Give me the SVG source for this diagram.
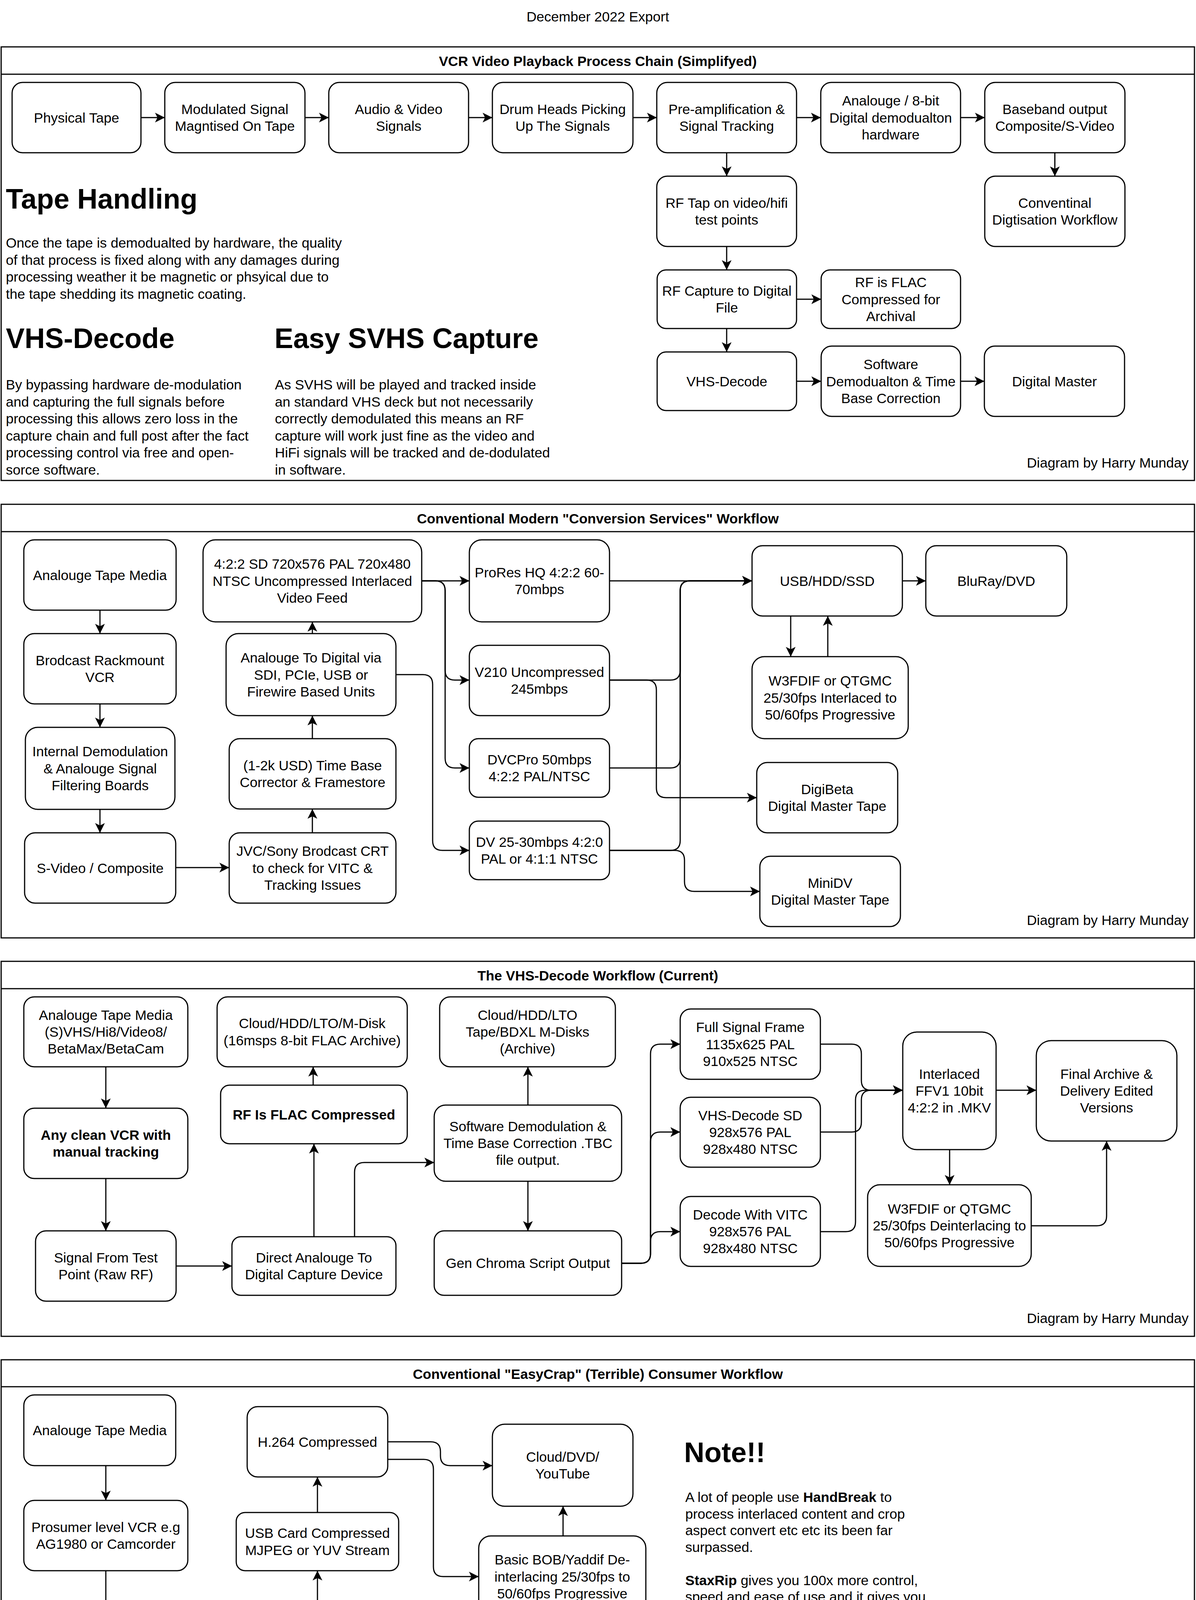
<svg xmlns="http://www.w3.org/2000/svg" width="3063" height="4443" viewBox="0 0 3063 4443">
<style>
.node{fill:#fff;stroke:#000;stroke-width:3}
.box{fill:none;stroke:#000;stroke-width:3}
.t{font-family:"Liberation Sans",Arial,Helvetica,sans-serif;font-size:35.5px;text-anchor:middle;fill:#000}
.b{font-weight:bold}
.l{text-anchor:start}
.r{text-anchor:end}
.h{font-family:"Liberation Sans",Arial,Helvetica,sans-serif;font-size:72px;font-weight:bold;fill:#000}
.e{fill:none;stroke:#000;stroke-width:3;marker-end:url(#arr)}
</style>
<defs>
<marker id="arr" markerUnits="userSpaceOnUse" markerWidth="30" markerHeight="30" refX="25" refY="13" orient="auto">
<path d="M25,13 L0,0.5 L6.25,13 L0,25.5 Z" fill="#000"/>
</marker>
</defs>
<rect x="0" y="0" width="3063" height="4443" fill="#fff"/>
<text class="t" x="1531" y="55">December 2022 Export</text>

<!-- ===== Section 1 ===== -->
<g id="sec1">
<rect class="box" x="3" y="120" width="3056" height="1110"/>
<line x1="3" y1="190" x2="3059" y2="190" stroke="#000" stroke-width="3"/>
<text class="t b" x="1531" y="169">VCR Video Playback Process Chain (Simplifyed)</text>
<text class="t r" x="3044" y="1197">Diagram by Harry Munday</text>
<text class="h" x="15" y="534">Tape Handling</text>
<text class="t l"><tspan x="15" y="634">Once the tape is demodualted by hardware, the quality</tspan><tspan x="15" y="677.5">of that process is fixed along with any damages during</tspan><tspan x="15" y="721">processing weather it be magnetic or phsyical due to</tspan><tspan x="15" y="764.5">the tape shedding its magnetic coating.</tspan></text>
<text class="h" x="15" y="891">VHS-Decode</text>
<text class="t l"><tspan x="15" y="997">By bypassing hardware de-modulation</tspan><tspan x="15" y="1040.5">and capturing the full signals before</tspan><tspan x="15" y="1084">processing this allows zero loss in the</tspan><tspan x="15" y="1127.5">capture chain and full post after the fact</tspan><tspan x="15" y="1171">processing control via free and open-</tspan><tspan x="15" y="1214.5">sorce software.</tspan></text>
<text class="h" x="703" y="891">Easy SVHS Capture</text>
<text class="t l"><tspan x="704" y="997">As SVHS will be played and tracked inside</tspan><tspan x="704" y="1040.5">an standard VHS deck but not necessarily</tspan><tspan x="704" y="1084">correctly demodulated this means an RF</tspan><tspan x="704" y="1127.5">capture will work just fine as the video and</tspan><tspan x="704" y="1171">HiFi signals will be tracked and de-dodulated</tspan><tspan x="704" y="1214.5">in software.</tspan></text>
</g>
<g id="s1-physical"><rect class="node" x="31" y="211" width="330" height="180" rx="27"/><text class="t" x="196" y="313.5">Physical Tape</text></g>
<g id="s1-modulated"><rect class="node" x="422" y="211" width="359" height="180" rx="27"/><text class="t"><tspan x="601.5" y="291.9">Modulated Signal</tspan><tspan x="601.5" y="335.1">Magntised On Tape</tspan></text></g>
<g id="s1-audiovideo"><rect class="node" x="842" y="211" width="358" height="180" rx="27"/><text class="t"><tspan x="1021" y="291.9">Audio &amp; Video</tspan><tspan x="1021" y="335.1">Signals</tspan></text></g>
<g id="s1-drum"><rect class="node" x="1261" y="211" width="360" height="180" rx="27"/><text class="t"><tspan x="1441" y="291.9">Drum Heads Picking</tspan><tspan x="1441" y="335.1">Up The Signals</tspan></text></g>
<g id="s1-preamp"><rect class="node" x="1682" y="211" width="358" height="180" rx="27"/><text class="t"><tspan x="1861" y="291.9">Pre-amplification &amp;</tspan><tspan x="1861" y="335.1">Signal Tracking</tspan></text></g>
<g id="s1-demodhw"><rect class="node" x="2102" y="211" width="358" height="180" rx="27"/><text class="t"><tspan x="2281" y="270.3">Analouge / 8-bit</tspan><tspan x="2281" y="313.5">Digital demodualton</tspan><tspan x="2281" y="356.7">hardware</tspan></text></g>
<g id="s1-baseband"><rect class="node" x="2522" y="211" width="359" height="180" rx="27"/><text class="t"><tspan x="2701.5" y="291.9">Baseband output</tspan><tspan x="2701.5" y="335.1">Composite/S-Video</tspan></text></g>
<g id="s1-rftap"><rect class="node" x="1682" y="451" width="358" height="180" rx="27"/><text class="t"><tspan x="1861" y="531.9">RF Tap on video/hifi</tspan><tspan x="1861" y="575.1">test points</tspan></text></g>
<g id="s1-conventinal"><rect class="node" x="2522" y="451" width="359" height="180" rx="27"/><text class="t"><tspan x="2701.5" y="531.9">Conventinal</tspan><tspan x="2701.5" y="575.1">Digtisation Workflow</tspan></text></g>
<g id="s1-rfcapture"><rect class="node" x="1683" y="691" width="357" height="150" rx="22.5"/><text class="t"><tspan x="1861.5" y="756.9">RF Capture to Digital</tspan><tspan x="1861.5" y="800.1">File</tspan></text></g>
<g id="s1-rfflac"><rect class="node" x="2103" y="691" width="357" height="150" rx="22.5"/><text class="t"><tspan x="2281.5" y="735.3">RF is FLAC</tspan><tspan x="2281.5" y="778.5">Compressed for</tspan><tspan x="2281.5" y="821.7">Archival</tspan></text></g>
<g id="s1-vhsdecode"><rect class="node" x="1683" y="901" width="357" height="150" rx="22.5"/><text class="t" x="1861.5" y="988.5">VHS-Decode</text></g>
<g id="s1-software"><rect class="node" x="2103" y="886" width="357" height="180" rx="27"/><text class="t"><tspan x="2281.5" y="945.3">Software</tspan><tspan x="2281.5" y="988.5">Demodualton &amp; Time</tspan><tspan x="2281.5" y="1031.7">Base Correction</tspan></text></g>
<g id="s1-master"><rect class="node" x="2521" y="886" width="359" height="180" rx="27"/><text class="t" x="2700.5" y="988.5">Digital Master</text></g>

<!-- ===== Section 2 ===== -->
<g id="sec2">
<rect class="box" x="3" y="1291" width="3056" height="1110"/>
<line x1="3" y1="1361" x2="3059" y2="1361" stroke="#000" stroke-width="3"/>
<text class="t b" x="1531" y="1340">Conventional Modern "Conversion Services" Workflow</text>
<text class="t r" x="3044" y="2368">Diagram by Harry Munday</text>
</g>
<g id="s2-tape"><rect class="node" x="61" y="1382" width="390" height="180" rx="27"/><text class="t" x="256" y="1484.5">Analouge Tape Media</text></g>
<g id="s2-vcr"><rect class="node" x="61" y="1622" width="390" height="180" rx="27"/><text class="t"><tspan x="256" y="1702.9">Brodcast Rackmount</tspan><tspan x="256" y="1746.1">VCR</tspan></text></g>
<g id="s2-demod"><rect class="node" x="65" y="1862" width="383" height="210" rx="31.5"/><text class="t"><tspan x="256.5" y="1936.3">Internal Demodulation</tspan><tspan x="256.5" y="1979.5">&amp; Analouge Signal</tspan><tspan x="256.5" y="2022.7">Filtering Boards</tspan></text></g>
<g id="s2-svideo"><rect class="node" x="63" y="2132" width="387" height="180" rx="27"/><text class="t" x="256.5" y="2234.5">S-Video / Composite</text></g>
<g id="s2-422"><rect class="node" x="520" y="1382" width="560" height="210" rx="31.5"/><text class="t"><tspan x="800" y="1456.3">4:2:2 SD 720x576 PAL 720x480</tspan><tspan x="800" y="1499.5">NTSC Uncompressed Interlaced</tspan><tspan x="800" y="1542.7">Video Feed</tspan></text></g>
<g id="s2-a2d"><rect class="node" x="579" y="1622" width="435" height="210" rx="31.5"/><text class="t"><tspan x="796.5" y="1696.3">Analouge To Digital via</tspan><tspan x="796.5" y="1739.5">SDI, PCIe, USB or</tspan><tspan x="796.5" y="1782.7">Firewire Based Units</tspan></text></g>
<g id="s2-tbc"><rect class="node" x="587" y="1891" width="427" height="180" rx="27"/><text class="t"><tspan x="800.5" y="1971.9">(1-2k USD) Time Base</tspan><tspan x="800.5" y="2015.1">Corrector &amp; Framestore</tspan></text></g>
<g id="s2-crt"><rect class="node" x="587" y="2132" width="427" height="180" rx="27"/><text class="t"><tspan x="800.5" y="2191.3">JVC/Sony Brodcast CRT</tspan><tspan x="800.5" y="2234.5">to check for VITC &amp;</tspan><tspan x="800.5" y="2277.7">Tracking Issues</tspan></text></g>
<g id="s2-prores"><rect class="node" x="1202" y="1382" width="359" height="210" rx="31.5"/><text class="t"><tspan x="1381.5" y="1477.9">ProRes HQ 4:2:2 60-</tspan><tspan x="1381.5" y="1521.1">70mbps</tspan></text></g>
<g id="s2-v210"><rect class="node" x="1202" y="1652" width="359" height="180" rx="27"/><text class="t"><tspan x="1381.5" y="1732.9">V210 Uncompressed</tspan><tspan x="1381.5" y="1776.1">245mbps</tspan></text></g>
<g id="s2-dvcpro"><rect class="node" x="1202" y="1891" width="359" height="150" rx="22.5"/><text class="t"><tspan x="1381.5" y="1956.9">DVCPro 50mbps</tspan><tspan x="1381.5" y="2000.1">4:2:2 PAL/NTSC</tspan></text></g>
<g id="s2-dv"><rect class="node" x="1202" y="2102" width="359" height="150" rx="22.5"/><text class="t"><tspan x="1381.5" y="2167.9">DV 25-30mbps 4:2:0</tspan><tspan x="1381.5" y="2211.1">PAL or 4:1:1 NTSC</tspan></text></g>
<g id="s2-usb"><rect class="node" x="1926" y="1397" width="385" height="180" rx="27"/><text class="t" x="2118.5" y="1499.5">USB/HDD/SSD</text></g>
<g id="s2-bluray"><rect class="node" x="2371" y="1397" width="361" height="180" rx="27"/><text class="t" x="2551.5" y="1499.5">BluRay/DVD</text></g>
<g id="s2-w3fdif"><rect class="node" x="1926" y="1681" width="400" height="210" rx="31.5"/><text class="t"><tspan x="2126" y="1755.3">W3FDIF or QTGMC</tspan><tspan x="2126" y="1798.5">25/30fps Interlaced to</tspan><tspan x="2126" y="1841.7">50/60fps Progressive</tspan></text></g>
<g id="s2-digibeta"><rect class="node" x="1938" y="1952" width="361" height="180" rx="27"/><text class="t"><tspan x="2118.5" y="2032.9">DigiBeta</tspan><tspan x="2118.5" y="2076.1">Digital Master Tape</tspan></text></g>
<g id="s2-minidv"><rect class="node" x="1946" y="2192" width="360" height="180" rx="27"/><text class="t"><tspan x="2126" y="2272.9">MiniDV</tspan><tspan x="2126" y="2316.1">Digital Master Tape</tspan></text></g>

<!-- ===== Section 3 ===== -->
<g id="sec3">
<rect class="box" x="3" y="2461" width="3056" height="960"/>
<line x1="3" y1="2531" x2="3059" y2="2531" stroke="#000" stroke-width="3"/>
<text class="t b" x="1531" y="2510">The VHS-Decode Workflow (Current)</text>
<text class="t r" x="3044" y="3387">Diagram by Harry Munday</text>
</g>
<g id="s3-tape"><rect class="node" x="61" y="2552" width="420" height="179" rx="27"/><text class="t"><tspan x="271" y="2610.8">Analouge Tape Media</tspan><tspan x="271" y="2654">(S)VHS/Hi8/Video8/</tspan><tspan x="271" y="2697.2">BetaMax/BetaCam</tspan></text></g>
<g id="s3-vcr"><rect class="node" x="61" y="2837" width="420" height="180" rx="27"/><text class="t b"><tspan x="271" y="2917.9">Any clean VCR with</tspan><tspan x="271" y="2961.1">manual tracking</tspan></text></g>
<g id="s3-signal"><rect class="node" x="91" y="3151" width="360" height="180" rx="27"/><text class="t"><tspan x="271" y="3231.9">Signal From Test</tspan><tspan x="271" y="3275.1">Point (Raw RF)</tspan></text></g>
<g id="s3-cloud1"><rect class="node" x="556" y="2552" width="487" height="179" rx="27"/><text class="t"><tspan x="799.5" y="2632.4">Cloud/HDD/LTO/M-Disk</tspan><tspan x="799.5" y="2675.6">(16msps 8-bit FLAC Archive)</tspan></text></g>
<g id="s3-flac"><rect class="node" x="565" y="2778" width="478" height="150" rx="22.5"/><text class="t b" x="804" y="2865.5">RF Is FLAC Compressed</text></g>
<g id="s3-capture"><rect class="node" x="594" y="3166" width="420" height="150" rx="22.5"/><text class="t"><tspan x="804" y="3231.9">Direct Analouge To</tspan><tspan x="804" y="3275.1">Digital Capture Device</tspan></text></g>
<g id="s3-cloud2"><rect class="node" x="1126" y="2552" width="450" height="179" rx="27"/><text class="t"><tspan x="1351" y="2610.8">Cloud/HDD/LTO</tspan><tspan x="1351" y="2654">Tape/BDXL M-Disks</tspan><tspan x="1351" y="2697.2">(Archive)</tspan></text></g>
<g id="s3-software"><rect class="node" x="1112" y="2829" width="480" height="195" rx="29"/><text class="t"><tspan x="1352" y="2895.8">Software Demodulation &amp;</tspan><tspan x="1352" y="2939">Time Base Correction .TBC</tspan><tspan x="1352" y="2982.2">file output.</tspan></text></g>
<g id="s3-chroma"><rect class="node" x="1112" y="3151" width="480" height="165" rx="25"/><text class="t" x="1352" y="3246">Gen Chroma Script Output</text></g>
<g id="s3-full"><rect class="node" x="1742" y="2583" width="359" height="180" rx="27"/><text class="t"><tspan x="1921.5" y="2642.3">Full Signal Frame</tspan><tspan x="1921.5" y="2685.5">1135x625 PAL</tspan><tspan x="1921.5" y="2728.7">910x525 NTSC</tspan></text></g>
<g id="s3-sd"><rect class="node" x="1742" y="2809" width="359" height="179" rx="27"/><text class="t"><tspan x="1921.5" y="2867.8">VHS-Decode SD</tspan><tspan x="1921.5" y="2911">928x576 PAL</tspan><tspan x="1921.5" y="2954.2">928x480 NTSC</tspan></text></g>
<g id="s3-vitc"><rect class="node" x="1742" y="3063" width="359" height="179" rx="27"/><text class="t"><tspan x="1921.5" y="3121.8">Decode With VITC</tspan><tspan x="1921.5" y="3165">928x576 PAL</tspan><tspan x="1921.5" y="3208.2">928x480 NTSC</tspan></text></g>
<g id="s3-ffv1"><rect class="node" x="2312" y="2642" width="239" height="301" rx="36"/><text class="t"><tspan x="2431.5" y="2761.8">Interlaced</tspan><tspan x="2431.5" y="2805">FFV1 10bit</tspan><tspan x="2431.5" y="2848.2">4:2:2 in .MKV</tspan></text></g>
<g id="s3-final"><rect class="node" x="2654" y="2664" width="360" height="257" rx="38"/><text class="t"><tspan x="2834" y="2761.8">Final Archive &amp;</tspan><tspan x="2834" y="2805">Delivery Edited</tspan><tspan x="2834" y="2848.2">Versions</tspan></text></g>
<g id="s3-w3fdif"><rect class="node" x="2222" y="3033" width="419" height="209" rx="31.5"/><text class="t"><tspan x="2431.5" y="3106.8">W3FDIF or QTGMC</tspan><tspan x="2431.5" y="3150">25/30fps Deinterlacing to</tspan><tspan x="2431.5" y="3193.2">50/60fps Progressive</tspan></text></g>

<!-- ===== Section 4 ===== -->
<g id="sec4">
<rect class="box" x="3" y="3481" width="3056" height="958"/>
<line x1="3" y1="3550" x2="3059" y2="3550" stroke="#000" stroke-width="3"/>
<text class="t b" x="1531" y="3530">Conventional "EasyCrap" (Terrible) Consumer Workflow</text>
<text class="t r" x="3044" y="4407">Diagram by Harry Munday</text>
<text class="h" x="1752" y="3743">Note!!</text>
<text class="t l"><tspan x="1755" y="3845">A lot of people use <tspan class="b">HandBreak</tspan> to</tspan><tspan x="1755" y="3887.5">process interlaced content and crop</tspan><tspan x="1755" y="3930">aspect convert etc etc its been far</tspan><tspan x="1755" y="3972.5">surpassed.</tspan><tspan x="1755" y="4057.5"><tspan class="b">StaxRip</tspan> gives you 100x more control,</tspan><tspan x="1755" y="4100">speed and ease of use and it gives you</tspan><tspan x="1755" y="4142.5">multible powerful command line tool sets</tspan><tspan x="1755" y="4185">in a GUI allowing for 3-5 click to encode</tspan><tspan x="1755" y="4227.5">as well as GPU encode support and</tspan><tspan x="1755" y="4270">many, many more fetures such as</tspan><tspan x="1755" y="4312.5">QTGMC de-interlacing.</tspan></text>
</g>
<g id="s4-tape"><rect class="node" x="61" y="3571" width="389" height="181" rx="27"/><text class="t" x="255.5" y="3674">Analouge Tape Media</text></g>
<g id="s4-vcr"><rect class="node" x="61" y="3841" width="420" height="180" rx="27"/><text class="t"><tspan x="271" y="3921.9">Prosumer level VCR e.g</tspan><tspan x="271" y="3965.1">AG1980 or Camcorder</tspan></text></g>
<g id="s4-demod"><rect class="node" x="76" y="4140" width="390" height="211" rx="31.5"/><text class="t"><tspan x="271" y="4236.4">Internal Demodulation</tspan><tspan x="271" y="4279.6">&amp; Filtering Boards</tspan></text></g>
<g id="s4-tbc"><rect class="node" x="582" y="4122" width="462" height="247" rx="37"/><text class="t"><tspan x="813" y="4214.8">Internal TBC or DMR</tspan><tspan x="813" y="4258">ES10/15 as a TBC Via S-</tspan><tspan x="813" y="4301.2">Video or CVBS passthough</tspan></text></g>
<g id="s4-usb"><rect class="node" x="605" y="3872" width="416" height="149" rx="22.5"/><text class="t"><tspan x="813" y="3937.4">USB Card Compressed</tspan><tspan x="813" y="3980.6">MJPEG or YUV Stream</tspan></text></g>
<g id="s4-h264"><rect class="node" x="633" y="3601" width="360" height="180" rx="27"/><text class="t" x="813" y="3703.5">H.264 Compressed</text></g>
<g id="s4-cloud"><rect class="node" x="1261" y="3646" width="360" height="210" rx="31.5"/><text class="t"><tspan x="1441" y="3741.9">Cloud/DVD/</tspan><tspan x="1441" y="3785.1">YouTube</tspan></text></g>
<g id="s4-bob"><rect class="node" x="1226" y="3932" width="428" height="208" rx="31"/><text class="t"><tspan x="1440" y="4005.3">Basic BOB/Yaddif De-</tspan><tspan x="1440" y="4048.5">interlacing 25/30fps to</tspan><tspan x="1440" y="4091.7">50/60fps Progressive</tspan></text></g>

<!-- ===== Connectors ===== -->
<g id="connectors">
<path class="e" d="M361,301 H422"/>
<path class="e" d="M781,301 H842"/>
<path class="e" d="M1200,301 H1261"/>
<path class="e" d="M1621,301 H1682"/>
<path class="e" d="M2040,301 H2102"/>
<path class="e" d="M2460,301 H2522"/>
<path class="e" d="M1861,391 V451"/>
<path class="e" d="M2701.5,391 V451"/>
<path class="e" d="M1861,631 V691"/>
<path class="e" d="M2040,766 H2103"/>
<path class="e" d="M1861,841 V901"/>
<path class="e" d="M2040,976 H2103"/>
<path class="e" d="M2460,976 H2521"/>

<path class="e" d="M256,1562 V1622"/>
<path class="e" d="M256,1802 V1862"/>
<path class="e" d="M256,2072 V2132"/>
<path class="e" d="M450,2221 H587"/>
<path class="e" d="M800,2132 V2071"/>
<path class="e" d="M800,1891 V1832"/>
<path class="e" d="M800,1622 V1592"/>
<path class="e" d="M1080,1487 H1202"/>
<path class="e" d="M1080,1487 H1115 Q1140,1487 1140,1512 V1716 Q1140,1741 1165,1741 H1202"/>
<path class="e" d="M1080,1487 H1115 Q1140,1487 1140,1512 V1941 Q1140,1966 1165,1966 H1202"/>
<path class="e" d="M1014,1727 H1083 Q1108,1727 1108,1752 V2152 Q1108,2177 1133,2177 H1202"/>
<path class="e" d="M1561,1487 H1926"/>
<path class="e" d="M1561,1741 H1717 Q1742,1741 1742,1716 V1512 Q1742,1487 1767,1487 H1926"/>
<path class="e" d="M1561,1966 H1717 Q1742,1966 1742,1941 V1512 Q1742,1487 1767,1487 H1926"/>
<path class="e" d="M1561,2177 H1717 Q1742,2177 1742,2152 V1512 Q1742,1487 1767,1487 H1926"/>
<path class="e" d="M1561,1741 H1656 Q1681,1741 1681,1766 V2017 Q1681,2042 1706,2042 H1938"/>
<path class="e" d="M1561,2177 H1728 Q1753,2177 1753,2202 V2257 Q1753,2282 1778,2282 H1946"/>
<path class="e" d="M2311,1487 H2371"/>
<path class="e" d="M2025,1577 V1681"/>
<path class="e" d="M2120,1681 V1577"/>

<path class="e" d="M271,2731 V2837"/>
<path class="e" d="M271,3017 V3151"/>
<path class="e" d="M451,3241 H594"/>
<path class="e" d="M804,3166 V2928"/>
<path class="e" d="M802,2778 V2731"/>
<path class="e" d="M908,3166 V3001 Q908,2976 933,2976 H1112"/>
<path class="e" d="M1352,2829 V2731"/>
<path class="e" d="M1352,3024 V3151"/>
<path class="e" d="M1592,3234 H1641 Q1666,3234 1666,3209 V2698 Q1666,2673 1691,2673 H1742"/>
<path class="e" d="M1592,3234 H1641 Q1666,3234 1666,3209 V2923 Q1666,2898 1691,2898 H1742"/>
<path class="e" d="M1592,3234 H1641 Q1666,3234 1666,3209 V3178 Q1666,3153 1691,3153 H1742"/>
<path class="e" d="M2101,2673 H2181 Q2206,2673 2206,2698 V2766 Q2206,2791 2231,2791 H2312"/>
<path class="e" d="M2101,2898 H2181 Q2206,2898 2206,2873 V2816 Q2206,2791 2231,2791 H2312"/>
<path class="e" d="M2101,3153 H2166 Q2191,3153 2191,3128 V2816 Q2191,2791 2216,2791 H2312"/>
<path class="e" d="M2551,2791 H2654"/>
<path class="e" d="M2432,2943 V3033"/>
<path class="e" d="M2641,3138 H2809 Q2834,3138 2834,3113 V2921"/>

<path class="e" d="M271,3752 V3841"/>
<path class="e" d="M271,4021 V4140"/>
<path class="e" d="M466,4246 H582"/>
<path class="e" d="M813,4122 V4021"/>
<path class="e" d="M813,3872 V3781"/>
<path class="e" d="M993,3691 H1103 Q1128,3691 1128,3716 V3727 Q1128,3752 1153,3752 H1261"/>
<path class="e" d="M993,3736 H1085 Q1110,3736 1110,3761 V4011 Q1110,4036 1135,4036 H1226"/>
<path class="e" d="M1442,3932 V3856"/>
</g>
</svg>
